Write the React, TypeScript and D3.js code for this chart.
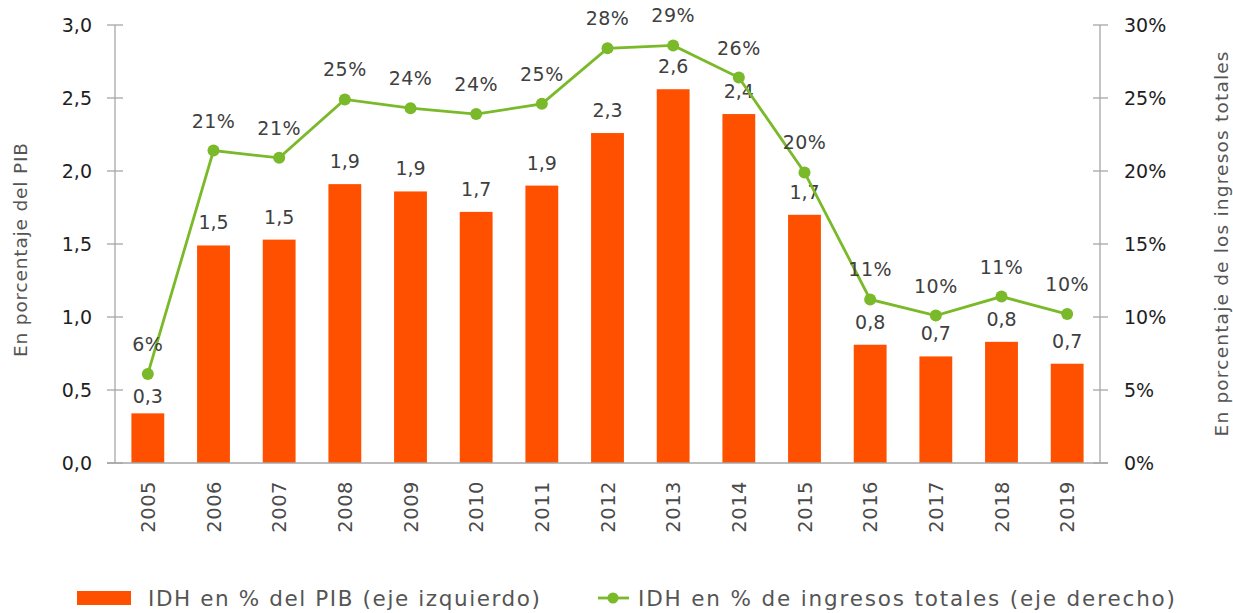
import { useEffect, useRef } from 'react'
import * as d3 from 'd3'

const years = ['2005', '2006', '2007', '2008', '2009', '2010', '2011', '2012', '2013', '2014', '2015', '2016', '2017', '2018', '2019']
const gdpShare = [0.34, 1.49, 1.53, 1.91, 1.86, 1.72, 1.9, 2.26, 2.56, 2.39, 1.7, 0.81, 0.73, 0.83, 0.68]
const revenueShare = [6.1, 21.4, 20.9, 24.9, 24.3, 23.9, 24.6, 28.4, 28.6, 26.4, 19.9, 11.2, 10.1, 11.4, 10.2]
const leftTicks = [0, 0.5, 1, 1.5, 2, 2.5, 3]
const rightTicks = [0, 5, 10, 15, 20, 25, 30]

const W = 1233
const H = 613
const FONT = 'DejaVu Sans, sans-serif'
const ORANGE = '#ff5000'
const GREEN = '#7ab929'
const AXIS = '#a6a6a6'

const comma = (v: number, d: number) => v.toFixed(d).replace('.', ',')

export default function App() {
  const svgRef = useRef<SVGSVGElement | null>(null)

  useEffect(() => {
    if (!svgRef.current) return
    const svg = d3.select(svgRef.current)
    svg.selectAll('*').remove()

    const left = 115
    const right = 1100
    const top = 25
    const bottom = 463

    const x = d3.scaleBand().domain(years).range([left, right]).paddingInner(0.5).paddingOuter(0.25)
    const yL = d3.scaleLinear().domain([0, 3]).range([bottom, top])
    const yR = d3.scaleLinear().domain([0, 30]).range([bottom, top])

    // bars
    svg.append('g')
      .selectAll('rect')
      .data(years)
      .join('rect')
      .attr('x', d => x(d)!)
      .attr('width', x.bandwidth())
      .attr('y', (_, i) => yL(gdpShare[i]))
      .attr('height', (_, i) => bottom - yL(gdpShare[i]))
      .attr('fill', ORANGE)

    // axes
    const axisG = svg.append('g').attr('stroke', AXIS).attr('stroke-width', 1.3)
    axisG.append('line').attr('x1', left).attr('x2', left).attr('y1', top).attr('y2', bottom)
    axisG.append('line').attr('x1', right).attr('x2', right).attr('y1', top).attr('y2', bottom)
    axisG.append('line').attr('x1', left - 8).attr('x2', right + 8).attr('y1', bottom).attr('y2', bottom)
    leftTicks.forEach(t => {
      axisG.append('line').attr('x1', left - 8).attr('x2', left + 8).attr('y1', yL(t)).attr('y2', yL(t))
    })
    rightTicks.forEach(t => {
      axisG.append('line').attr('x1', right - 7).attr('x2', right + 8).attr('y1', yR(t)).attr('y2', yR(t))
    })

    svg.append('g')
      .selectAll('text')
      .data(leftTicks)
      .join('text')
      .attr('x', 92)
      .attr('y', d => yL(d))
      .attr('dy', '0.36em')
      .attr('text-anchor', 'end')
      .attr('fill', '#1e1e1e')
      .attr('font-family', FONT)
      .attr('font-size', 19)
      .text(d => comma(d, 1))

    svg.append('g')
      .selectAll('text')
      .data(rightTicks)
      .join('text')
      .attr('x', 1124)
      .attr('y', d => yR(d))
      .attr('dy', '0.36em')
      .attr('fill', '#1e1e1e')
      .attr('font-family', FONT)
      .attr('font-size', 19)
      .text(d => `${d}%`)

    // year labels
    svg.append('g')
      .selectAll('text')
      .data(years)
      .join('text')
      .attr('transform', d => `translate(${x(d)! + x.bandwidth() / 2},481) rotate(-90)`)
      .attr('dy', '0.36em')
      .attr('text-anchor', 'end')
      .attr('fill', '#4a4a4a')
      .attr('font-family', FONT)
      .attr('font-size', 19.5)
      .attr('letter-spacing', 0.5)
      .text(d => d)

    // axis titles
    svg.append('text')
      .attr('transform', `translate(27,250) rotate(-90)`)
      .attr('text-anchor', 'middle')
      .attr('fill', '#555')
      .attr('font-family', FONT)
      .attr('font-size', 18.5)
      .attr('textLength', 214)
      .attr('lengthAdjust', 'spacing')
      .text('En porcentaje del PIB')

    svg.append('text')
      .attr('transform', `translate(1228,244) rotate(-90)`)
      .attr('text-anchor', 'middle')
      .attr('fill', '#555')
      .attr('font-family', FONT)
      .attr('font-size', 18.5)
      .attr('textLength', 385)
      .attr('lengthAdjust', 'spacing')
      .text('En porcentaje de los ingresos totales')

    // bar labels
    svg.append('g')
      .selectAll('text')
      .data(years)
      .join('text')
      .attr('x', d => x(d)! + x.bandwidth() / 2)
      .attr('y', (_, i) => yL(gdpShare[i]) - (i === 0 ? 10 : 16))
      .attr('text-anchor', 'middle')
      .attr('fill', '#404040')
      .attr('font-family', FONT)
      .attr('font-size', 19)
      .text((_, i) => comma(gdpShare[i], 1))

    // line series
    const cx = (i: number) => x(years[i])! + x.bandwidth() / 2
    const line = d3.line<number>().x((_, i) => cx(i)).y(d => yR(d))
    svg.append('path')
      .datum(revenueShare)
      .attr('d', line)
      .attr('fill', 'none')
      .attr('stroke', GREEN)
      .attr('stroke-width', 2.8)

    svg.append('g')
      .selectAll('circle')
      .data(revenueShare)
      .join('circle')
      .attr('cx', (_, i) => cx(i))
      .attr('cy', d => yR(d))
      .attr('r', 6)
      .attr('fill', GREEN)

    svg.append('g')
      .selectAll('text')
      .data(revenueShare)
      .join('text')
      .attr('x', (_, i) => cx(i))
      .attr('y', d => yR(d) - 23)
      .attr('text-anchor', 'middle')
      .attr('fill', '#404040')
      .attr('font-family', FONT)
      .attr('font-size', 19)
      .attr('letter-spacing', 0.5)
      .text(d => `${Math.round(d)}%`)

    // legend
    const lg = svg.append('g').attr('font-family', FONT).attr('font-size', 21.5).attr('fill', '#555')
    lg.append('rect').attr('x', 77).attr('y', 591).attr('width', 54).attr('height', 14).attr('fill', ORANGE)
    lg.append('text').attr('x', 148).attr('y', 606)
      .attr('textLength', 392).attr('lengthAdjust', 'spacing')
      .text('IDH en % del PIB (eje izquierdo)')
    lg.append('line').attr('x1', 598).attr('x2', 629).attr('y1', 598).attr('y2', 598)
      .attr('stroke', GREEN).attr('stroke-width', 2.8)
    lg.append('circle').attr('cx', 613).attr('cy', 598).attr('r', 5.5).attr('fill', GREEN)
    lg.append('text').attr('x', 638).attr('y', 606)
      .attr('textLength', 537).attr('lengthAdjust', 'spacing')
      .text('IDH en % de ingresos totales (eje derecho)')
  }, [])

  return (
    <svg
      ref={svgRef}
      width={W}
      height={H}
      style={{ position: 'absolute', left: 0, top: 0, display: 'block', background: '#fff' }}
    />
  )
}
